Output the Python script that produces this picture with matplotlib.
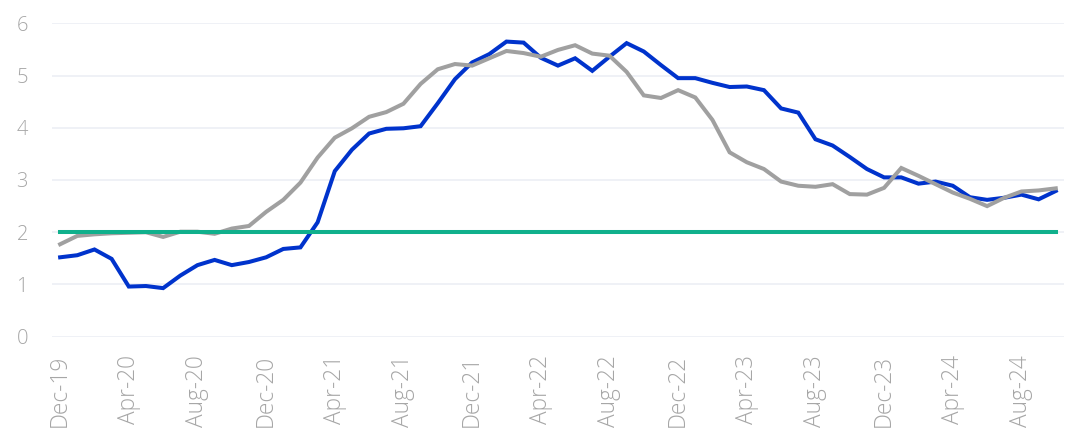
import matplotlib
matplotlib.use("Agg")
import matplotlib.pyplot as plt
import pandas as pd

months = pd.date_range("2019-12-01", "2024-10-01", freq="MS")
month_labels = [d.strftime("%b-%y") for d in months]

core = [1.52, 1.56, 1.67, 1.49, 0.96, 0.97, 0.93, 1.17, 1.37, 1.47,
        1.37, 1.43, 1.52, 1.68, 1.71, 2.19, 3.17, 3.58, 3.89, 3.98,
        3.99, 4.03, 4.47, 4.93, 5.25, 5.41, 5.65, 5.63, 5.34, 5.19,
        5.33, 5.09, 5.36, 5.62, 5.46, 5.20, 4.95, 4.95, 4.86, 4.78,
        4.79, 4.72, 4.37, 4.29, 3.78, 3.66, 3.44, 3.21, 3.05, 3.05,
        2.93, 2.97, 2.89, 2.67, 2.62, 2.66, 2.72, 2.63, 2.79]

other = [1.77, 1.93, 1.96, 1.98, 1.99, 2.00, 1.91, 2.01, 2.01, 1.97,
         2.07, 2.12, 2.39, 2.62, 2.95, 3.43, 3.81, 3.99, 4.21, 4.30,
         4.46, 4.84, 5.12, 5.22, 5.19, 5.33, 5.47, 5.43, 5.36, 5.49,
         5.58, 5.42, 5.38, 5.07, 4.62, 4.57, 4.72, 4.58, 4.15, 3.53,
         3.34, 3.21, 2.97, 2.89, 2.87, 2.92, 2.73, 2.72, 2.85, 3.23,
         3.08, 2.92, 2.76, 2.64, 2.50, 2.66, 2.78, 2.80, 2.84]

target = [2.0] * len(months)

y_ticks = [0, 1, 2, 3, 4, 5, 6]

plt.rcParams['font.family'] = ['Open Sans', 'DejaVu Sans']

fig = plt.figure(figsize=(10.65, 4.33), dpi=100)
ax = fig.add_axes([0.0484, 0.2224, 0.951, 0.7238])

x = list(range(len(months)))
ax.plot(x, core, color='#0033CC', lw=2.9, zorder=3, solid_joinstyle='miter')
ax.plot(x, other, color='#A0A0A0', lw=2.9, zorder=4, solid_joinstyle='miter')
ax.plot(x, target, color='#10B08C', lw=2.9, zorder=5)

ax.set_xlim(-0.5, len(months) - 0.5)
ax.set_ylim(0, 6)
ax.set_yticks(y_ticks)
ax.set_yticklabels([str(v) for v in y_ticks], fontweight='light')
ax.set_xticks(x[::4])
ax.set_xticklabels(month_labels[::4], rotation=90, fontweight='light')

ax.grid(axis='y', color='#EEF0F6', lw=1.3, zorder=0)
ax.grid(axis='x', visible=False)
for s in ax.spines.values():
    s.set_visible(False)
ax.tick_params(axis='both', length=0, labelcolor='#A6A6A6')
ax.tick_params(axis='y', pad=17, labelsize=14.5)
ax.tick_params(axis='x', pad=13, labelsize=16.3)

fig.savefig("out.png", dpi=100)
